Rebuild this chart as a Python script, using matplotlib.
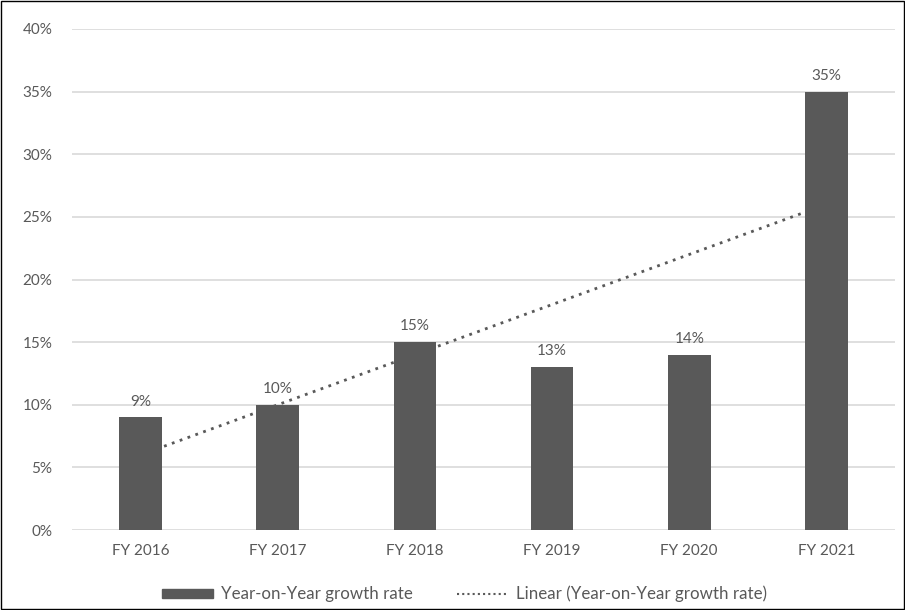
import matplotlib.pyplot as plt
import numpy as np
from matplotlib.ticker import FuncFormatter
from matplotlib.patches import Rectangle
from matplotlib.lines import Line2D

years = ['FY 2016', 'FY 2017', 'FY 2018', 'FY 2019', 'FY 2020', 'FY 2021']
growth = [9, 10, 15, 13, 14, 35]

plt.rcParams['font.family'] = ['Lato', 'DejaVu Sans']
txt = '#595959'

fig = plt.figure(figsize=(9.05, 6.10), dpi=100)
ax = fig.add_axes([72/905, 1 - 530/610, (895-72)/905, (530-29)/610])

x = np.arange(len(years))
bars = ax.bar(x, growth, width=0.31, color='#595959', zorder=3, label='Year-on-Year growth rate')
for xi, v in zip(x, growth):
    ax.text(xi, v + 0.7, f'{v}%', ha='center', va='bottom', fontsize=11, color=txt)

# linear trendline through the bars
k, b = np.polyfit(x, growth, 1)
trend, = ax.plot(x, k * x + b, linestyle=(0, (1, 2)), color=txt, linewidth=2, zorder=4,
                 label='Linear (Year-on-Year growth rate)')

ax.set_xlim(-0.5, len(years) - 0.5)
ax.set_ylim(0, 40)
ax.set_yticks(range(0, 41, 5))
ax.yaxis.set_major_formatter(FuncFormatter(lambda v, p: f'{v:.0f}%'))
ax.set_xticks(x, years)
ax.grid(axis='y', color='#d9d9d9', linewidth=1.2, zorder=0)
for s in ax.spines.values():
    s.set_visible(False)
ax.tick_params(length=0, colors=txt, labelsize=11)
ax.tick_params(axis='y', pad=14)
ax.tick_params(axis='x', pad=10)

bar_handle = Rectangle((0, 0), 1, 1, color='#595959')
trend_handle = Line2D([], [], linestyle=(0, (1, 1.5)), color=txt, linewidth=1.5)
ax.legend([bar_handle, trend_handle], [bars.get_label(), trend.get_label()],
          loc='lower center', bbox_to_anchor=(0.477, -0.175), ncol=2, frameon=False,
          fontsize=12.2, labelcolor=txt, handlelength=3.0, handleheight=0.45,
          columnspacing=2.65, handletextpad=0.45)

fig.patches.append(Rectangle((0.0008, 0.001), 0.9985, 0.9975, transform=fig.transFigure,
                             fill=False, edgecolor='black', linewidth=1.0))
fig.savefig('out.png', dpi=100)
